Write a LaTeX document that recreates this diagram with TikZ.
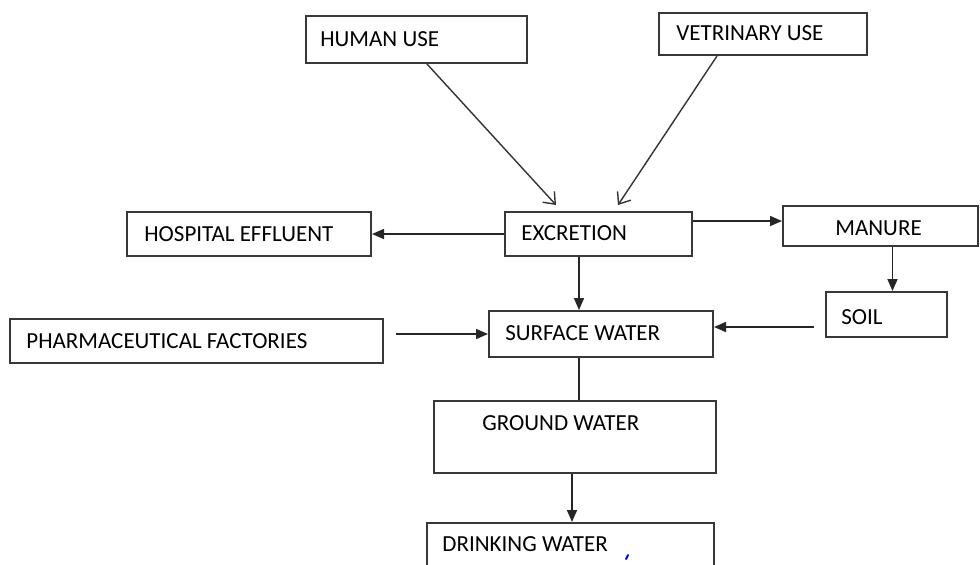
\documentclass[tikz,border=0pt]{standalone}
\usepackage{fontspec}
\setmainfont{Carlito}
\usetikzlibrary{arrows.meta}

\tikzset{
  box/.style={draw=black!78, line width=1pt, fill=white, inner sep=0pt},
  txt/.style={anchor=west, inner sep=0pt, text=black, font=\fontsize{11.5}{13}\selectfont},
  link/.style={draw=black!85, line width=0.8pt},
  arr/.style={link, -{Triangle[length=6pt,width=5pt]}},
  barb/.style={draw=black!80, line width=0.7pt, -{Straight Barb[length=5pt,width=8pt]}},
}

\begin{document}
\begin{tikzpicture}[x=0.5pt, y=-0.5pt]
\useasboundingbox (0,0) rectangle (980,564);
\clip (0,0) rectangle (980,564);

% boxes
\node[box, minimum width=110.5pt, minimum height=23.5pt] (hum)  at (416.5,39.5) {};
\node[box, minimum width=104pt,   minimum height=21pt]   (vet)  at (763,34) {};
\node[box, minimum width=93.5pt,  minimum height=22pt]   (exc)  at (598.5,234) {};
\node[box, minimum width=122pt,   minimum height=22pt]   (hos)  at (249,234) {};
\node[box, minimum width=97.5pt,  minimum height=20pt]   (man)  at (880.5,226) {};
\node[box, minimum width=60.5pt,  minimum height=22.5pt] (soil) at (886.5,314.5) {};
\node[box, minimum width=186.5pt, minimum height=22pt]   (pha)  at (196.5,341) {};
\node[box, minimum width=112pt,   minimum height=23pt]   (sur)  at (601,334) {};
\node[box, minimum width=141pt,   minimum height=36pt]   (gro)  at (575,437) {};
\node[box, minimum width=143.5pt, minimum height=38.5pt] (dri)  at (570.5,561.5) {};

% labels
\node[txt] (hum-t)  at (320,39)  {HUMAN USE};
\node[txt] (vet-t)  at (676,33)  {VETRINARY USE};
\node[txt] (exc-t)  at (521,233) {EXCRETION};
\node[txt] (hos-t)  at (144,234) {HOSPITAL EFFLUENT};
\node[txt] (man-t)  at (835,228) {MANURE};
\node[txt] (soil-t) at (841,317) {SOIL};
\node[txt] (pha-t)  at (26,341)  {PHARMACEUTICAL FACTORIES};
\node[txt] (sur-t)  at (505,333) {SURFACE WATER};
\node[txt] (gro-t)  at (482,423) {GROUND WATER};
\node[txt] (dri-t)  at (442,544) {DRINKING WATER};

% connectors
\draw[barb] ([xshift=5.25pt]hum.south) -- ([xshift=-21.25pt,yshift=3pt]exc.north);
\draw[barb] ([xshift=-23pt]vet.south) -- ([xshift=9.75pt,yshift=3pt]exc.north);
\draw[arr] (exc.west) -- (hos.east);
\draw[arr] ([yshift=6.5pt]exc.east) -- ([yshift=6.5pt]exc.east -| man.west);
\draw[arr] ([xshift=-9.75pt]exc.south) -- ([xshift=-9.75pt]exc.south |- sur.north);
\draw[arr] ([xshift=6pt]man.south) -- ([xshift=6pt]man.south |- soil.north);
\draw[arr] ([xshift=-5.5pt,yshift=-6.25pt]soil.west) -- ([yshift=-6.25pt]soil.west -| sur.east);
\draw[arr] ([xshift=6pt]pha.east |- sur.west) -- (sur.west);
\draw[link] ([xshift=-11pt]sur.south) -- ([xshift=-11pt]sur.south |- gro.north);
\draw[arr] ([xshift=-1.5pt]gro.south) -- ([xshift=-1.5pt]gro.south |- dri.north);

% stray mark
\draw[blue, line width=1pt, line cap=round] (626,559) -- (628,555);
\end{tikzpicture}
\end{document}
